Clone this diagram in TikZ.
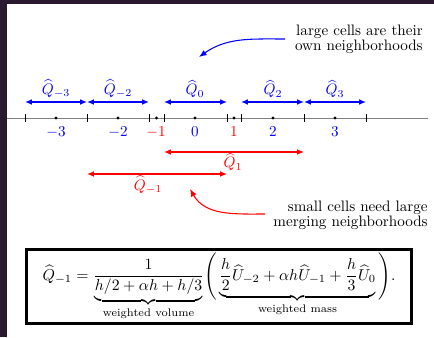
\documentclass[tikz,border=0pt]{standalone}
\usepackage{amsmath}
\usepackage{graphicx}
\usetikzlibrary{arrows.meta}
\definecolor{bgpurple}{RGB}{42,24,48}
\begin{document}
\begin{tikzpicture}[x=0.66pt,y=-0.66pt,
  tipq/.tip={Latex[length=4.5pt,width=3.8pt]},
  blu/.style={draw=blue, line width=0.9pt, tipq-tipq},
  rd/.style={draw=red, line width=0.9pt, tipq-tipq},
  tickmark/.style={draw=black, line width=0.5pt},
  bnum/.style={text=blue, inner sep=1pt},
  rnum/.style={text=red, inner sep=1pt},
  note/.style={align=right, anchor=east, inner sep=0pt, font=\fontsize{10}{10}\selectfont},
  curv/.style={line width=0.7pt, -{Latex[length=5pt,width=4pt]}}]
\useasboundingbox (0,0) rectangle (434,337);
\fill[bgpurple] (0,0) rectangle (434,337);
\fill[white] (7,4) rectangle (434,337);
% axis
\coordinate (axl) at (7,118);
\coordinate (axr) at (428,118);
\draw[gray, line width=0.6pt] (axl) -- (axr);
\foreach \x in {25,87,149,164,227,241,304,366} \draw[tickmark] (\x,114) -- (\x,122);
\foreach \x in {56,118,156.5,195,234,273,335} \fill (\x,118) circle (1.1pt);
% numbers
\node[bnum] (nm3) at (56,132) {$-3$};
\node[bnum] (nm2) at (118,132) {$-2$};
\node[rnum] (nm1) at (156,132) {$-1$};
\node[bnum] (n0) at (195,132) {$0$};
\node[rnum] (n1) at (234,132) {$1$};
\node[bnum] (n2) at (273,132) {$2$};
\node[bnum] (n3) at (335,132) {$3$};
% blue neighbourhoods
\coordinate (b0) at (25,102);
\coordinate (b1) at (87,102);
\coordinate (b2) at (149,102);
\coordinate (b3) at (164,102);
\coordinate (b4) at (227,102);
\coordinate (b5) at (241,102);
\coordinate (b6) at (304,102);
\coordinate (b7) at (366,102);
\draw[blu] (b0) -- (b1);
\draw[blu] (b1) -- (b2);
\draw[blu] (b3) -- (b4);
\draw[blu] (b5) -- (b6);
\draw[blu] (b6) -- (b7);
\node[bnum] (qm3) at (56,89) {$\widehat{Q}_{-3}$};
\node[bnum] (qm2) at (118,89) {$\widehat{Q}_{-2}$};
\node[bnum] (q0) at (195,89) {$\widehat{Q}_{0}$};
\node[bnum] (q2) at (273,89) {$\widehat{Q}_{2}$};
\node[bnum] (q3) at (335,89) {$\widehat{Q}_{3}$};
% red neighbourhoods
\coordinate (r1a) at (164,152);
\coordinate (r1b) at (304,152);
\draw[rd] (r1a) -- (r1b);
\node[rnum] (q1) at (233,162) {$\widehat{Q}_{1}$};
\coordinate (rma) at (87,174);
\coordinate (rmb) at (227,174);
\draw[rd] (rma) -- (rmb);
\node[rnum] (qm1) at (148,185) {$\widehat{Q}_{-1}$};
% notes
\node[note] (tlarge) at (423,39.5) {large cells are their\\own neighborhoods};
\coordinate (bs) at (285,39);
\coordinate (be) at (199,57);
\draw[blue, curv] (bs) to[out=180,in=35] (be);
\node[note] (tsmall) at (428,215) {small cells need large\\merging neighborhoods};
\coordinate (rs) at (265,214);
\coordinate (re) at (190,189);
\draw[red, curv] (rs) to[out=180,in=-60] (re);
% formula
\node[draw, line width=1.8pt, minimum width=254pt, minimum height=49pt, inner sep=0pt] (eq) at (219,286.5)
{\scalebox{1.04}{$\displaystyle \widehat{Q}_{-1} = \frac{1}{\underbrace{h/2+\alpha h+h/3}_{\text{weighted volume}}}\Bigg(\underbrace{\frac{h}{2}\widehat{U}_{-2}+\alpha h\widehat{U}_{-1}+\frac{h}{3}\widehat{U}_0}_{\text{weighted mass}}\Bigg).$}};
\end{tikzpicture}
\end{document}
